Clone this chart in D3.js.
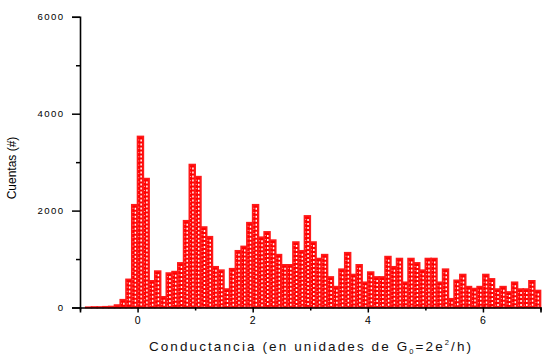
<!DOCTYPE html>
<html>
<head>
<meta charset="utf-8">
<script src="https://cdn.jsdelivr.net/npm/d3@7"></script>
<style>
  html, body { margin: 0; padding: 0; background: #fff; }
  svg { display: block; font-family: "Liberation Sans", Arial, sans-serif; }
</style>
</head>
<body>
<svg id="chart" width="542" height="356"></svg>
<script>
// Histogram of conductance: bins of 0.1 G0 starting at -1.0
const binStart = -1.0;
const binWidth = 0.1;
const counts = [
  0, 5, 10, 10, 15, 20, 50, 160, 580, 2120,          // -1.0 .. -0.1
  3530, 2660, 550, 750, 220, 710, 740, 920, 1790, 2950, // 0.0 .. 0.9
  2700, 1660, 1460, 840, 770, 380, 800, 1170, 1260, 1750, // 1.0 .. 1.9
  2120, 1450, 1560, 1390, 1090, 880, 880, 1350, 1170, 1890, // 2.0 .. 2.9
  1350, 1010, 1090, 630, 430, 790, 1130, 680, 880, 520,  // 3.0 .. 3.9
  730, 630, 630, 1050, 840, 1010, 520, 1010, 920, 770,   // 4.0 .. 4.9
  1010, 1010, 520, 790, 180, 560, 680, 430, 390, 430,    // 5.0 .. 5.9
  680, 590, 380, 430, 320, 520, 380, 380, 550, 350       // 6.0 .. 6.9
];
const xMajorTicks = [0, 2, 4, 6];
const xMinorTicks = [-1, 1, 3, 5, 7];
const yMajorTicks = [0, 2000, 4000, 6000];
const yMinorTicks = [1000, 3000, 5000];

const svg = d3.select("#chart");
const x = d3.scaleLinear().domain([-1, 7]).range([80, 540.5]);
const y = d3.scaleLinear().domain([0, 6000]).range([307.5, 16.8]);

const bins = counts.map((c, i) => ({ x0: binStart + i * binWidth, x1: binStart + (i + 1) * binWidth, n: c }));

// bars: solid red with a white dashed hatch line inside
const bar = svg.append("g").selectAll("g").data(bins).join("g");
bar.append("rect")
  .attr("x", d => x(d.x0))
  .attr("y", d => y(d.n))
  .attr("width", d => x(d.x1) - x(d.x0))
  .attr("height", d => y(0) - y(d.n))
  .attr("fill", "#ff0000")
  .attr("stroke", "#ff1a1a")
  .attr("stroke-width", 1.7);
bar.filter(d => y(0) - y(d.n) > 4).append("line")
  .attr("x1", d => (x(d.x0) + x(d.x1)) / 2 + 0.7)
  .attr("x2", d => (x(d.x0) + x(d.x1)) / 2 + 0.7)
  .attr("y1", d => y(d.n) + 3)
  .attr("y2", y(0) - 1)
  .attr("stroke", "#ffffff")
  .attr("stroke-width", 1.5)
  .attr("stroke-dasharray", "2,2");
bar.filter(d => y(0) - y(d.n) > 4).append("line")
  .attr("x1", d => x(d.x0) + 1.2)
  .attr("x2", d => x(d.x0) + 1.2)
  .attr("y1", d => y(d.n) + 3)
  .attr("y2", y(0) - 1)
  .attr("stroke", "#ffc8c8")
  .attr("stroke-width", 0.8)
  .attr("stroke-dasharray", "1,3.2");

// y axis
const yAxis = svg.append("g").attr("transform", "translate(80,0)");
yAxis.call(d3.axisLeft(y).tickValues(yMajorTicks).tickSize(8).tickPadding(9).tickFormat(d3.format("d")));
yAxis.append("g").call(d3.axisLeft(y).tickValues(yMinorTicks).tickSize(4).tickFormat(""));
yAxis.selectAll(".domain").attr("stroke", "#000").attr("stroke-width", 1.6);
yAxis.selectAll(".tick line").attr("stroke", "#000").attr("stroke-width", 1.5);
yAxis.selectAll("text")
  .attr("font-size", 9.6)
  .attr("letter-spacing", "1.4px")
  .attr("dx", "1.4")
  .attr("fill", "#000")
  .attr("font-family", "Liberation Sans, Arial, sans-serif");
yAxis.selectAll("g > g path.domain").remove();

// x axis
const xAxis = svg.append("g").attr("transform", `translate(0,${y(0)})`);
xAxis.call(d3.axisBottom(x).tickValues(xMajorTicks).tickSize(5).tickPadding(4).tickFormat(d3.format("d")));
xAxis.append("g").call(d3.axisBottom(x).tickValues(xMinorTicks).tickSize(3).tickFormat(""));
xAxis.selectAll(".domain").attr("stroke", "#000").attr("stroke-width", 1.6);
xAxis.selectAll(".tick line").attr("stroke", "#000").attr("stroke-width", 1.5);
xAxis.selectAll("text")
  .attr("font-size", 10.5)
  .attr("letter-spacing", "1px")
  .attr("fill", "#000")
  .attr("font-family", "Liberation Sans, Arial, sans-serif");
xAxis.selectAll("g > g path.domain").remove();

// axis titles
svg.append("text")
  .attr("transform", "translate(16,168) rotate(-90)")
  .attr("text-anchor", "middle")
  .attr("font-size", 12)
  .attr("fill", "#000")
  .text("Cuentas (#)");

const xt = svg.append("text")
  .attr("x", 311)
  .attr("y", 351)
  .attr("text-anchor", "middle")
  .attr("font-size", 13.5)
  .attr("letter-spacing", "2.1px")
  .attr("fill", "#111");
xt.append("tspan").text("Conductancia (en unidades de G");
xt.append("tspan").attr("font-size", 7.5).attr("dy", 3).text("0");
xt.append("tspan").attr("dy", -3).text("=2e");
xt.append("tspan").attr("font-size", 7.5).attr("dy", -6).text("2");
xt.append("tspan").attr("dy", 6).text("/h)");
</script>
</body>
</html>
